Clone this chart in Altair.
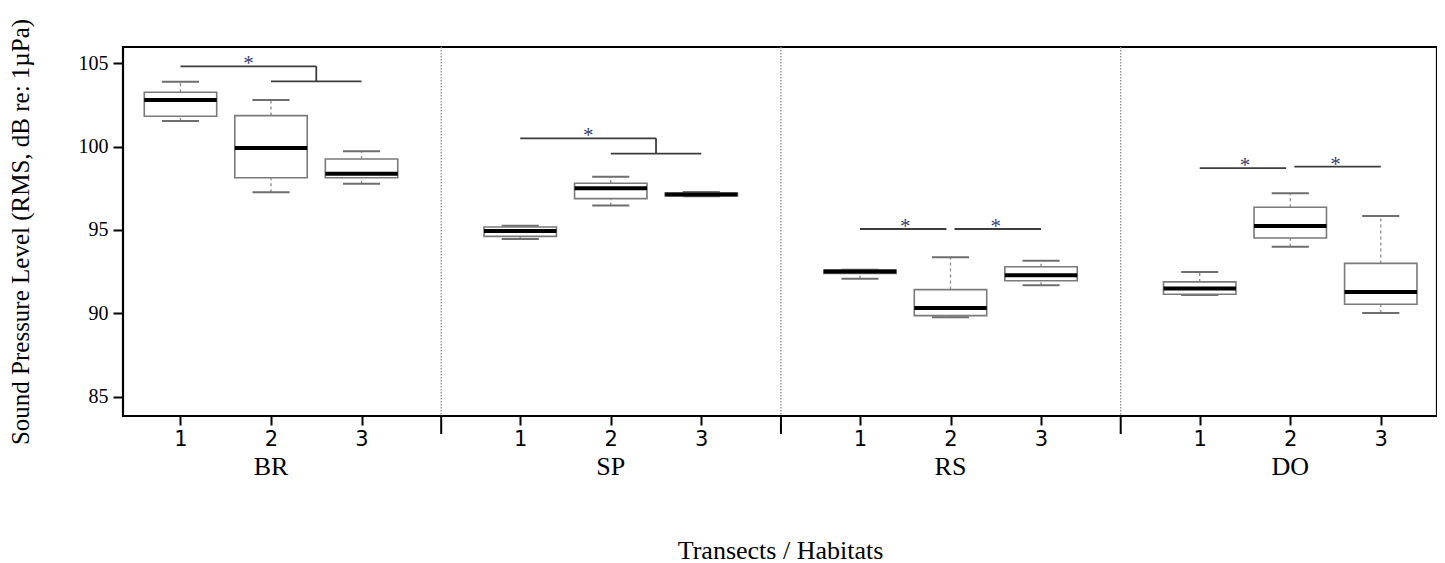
import altair as alt
import pandas as pd

# ---------------- data ----------------
groups = ["BR", "SP", "RS", "DO"]
transects = ["1", "2", "3"]

whisker_low  = [101.53, 97.26, 97.77, 94.46, 96.46, 97.02, 92.08, 89.77, 91.69, 91.11, 94.00, 90.03]
q1           = [101.81, 98.13, 98.13, 94.62, 96.88, 97.05, 92.40, 89.87, 91.96, 91.15, 94.52, 90.55]
median       = [102.78, 99.91, 98.37, 94.94, 97.50, 97.12, 92.52, 90.33, 92.29, 91.49, 95.24, 91.29]
q3           = [103.25, 101.85, 99.25, 95.18, 97.80, 97.22, 92.60, 91.43, 92.80, 91.89, 96.36, 93.00]
whisker_high = [103.88, 102.78, 99.71, 95.26, 98.19, 97.28, 92.62, 93.37, 93.16, 92.49, 97.20, 95.84]

# significance annotations (one per habitat)
sig_kind = ["bracket", "bracket", "pair", "pair"]
sig_level_a = [104.80, 100.49, 95.06, 98.71]   # upper line (bracket) / 1-2 line (pair)
sig_level_b = [103.90, 99.57, 95.06, 98.79]    # lower line (bracket) / 2-3 line (pair)
sig_symbol = "*"

y_ticks = [85, 90, 95, 100, 105]
y_title = "Sound Pressure Level (RMS, dB re: 1µPa)"
x_title = "Transects / Habitats"

# ---------------- layout helpers ----------------
STEP = 3.753          # group spacing in x units
BOX_HALF = 0.40
CAP_HALF = 0.205
GAP = 0.045

def pos(g, i):
    return g * STEP + i

rows = []
for g, grp in enumerate(groups):
    for i, t in enumerate(transects):
        k = g * 3 + i
        p = pos(g, i + 1)
        rows.append(dict(group=grp, transect=t, x=p, xl=p - BOX_HALF, xr=p + BOX_HALF,
                         cl=p - CAP_HALF, cr=p + CAP_HALF,
                         lo=whisker_low[k], q1=q1[k], med=median[k], q3=q3[k], hi=whisker_high[k]))
box = pd.DataFrame(rows)

seps = pd.DataFrame({"x": [pos(g, 1) + 2.88 for g in range(len(groups) - 1)]})
lab = pd.DataFrame({"group": groups, "x": [pos(g, 2) for g in range(len(groups))]})

seg, stars = [], []
for g, kind in enumerate(sig_kind):
    a, b = sig_level_a[g], sig_level_b[g]
    p1, p2, p3 = pos(g, 1), pos(g, 2), pos(g, 3)
    if kind == "bracket":
        m = (p2 + p3) / 2
        seg += [dict(x=p1, x2=m, y=a, y2=a), dict(x=m, x2=m, y=b, y2=a), dict(x=p2, x2=p3, y=b, y2=b)]
        stars.append(dict(x=(p1 + m) / 2, y=a))
    else:
        seg += [dict(x=p1, x2=p2 - GAP, y=a, y2=a), dict(x=p2 + GAP, x2=p3, y=b, y2=b)]
        stars += [dict(x=(p1 + p2) / 2, y=a), dict(x=(p2 + p3) / 2, y=b)]
seg = pd.DataFrame(seg)
stars = pd.DataFrame(stars)
stars["s"] = sig_symbol

W, H = 1314, 369
xs = alt.Scale(domain=[0.365, 14.88], nice=False, zero=False)
ys = alt.Scale(domain=[83.86, 105.96], nice=False, zero=False)

x_axis = alt.Axis(values=[pos(g, i) for g in range(4) for i in (1, 2, 3)],
                  labelExpr="'' + round(datum.value - floor(datum.value / 3.753) * 3.753)",
                  domain=False, grid=False, tickSize=9, tickWidth=2, tickColor="black",
                  labelFont="DejaVu Sans", labelFontSize=21, labelColor="black", labelPadding=3,
                  title=x_title, titleFont="Liberation Serif", titleFontSize=26,
                  titleFontWeight="normal", titleColor="black", titleX=W / 2, titleY=134,
                  titleAlign="center", titleBaseline="middle")
y_axis = alt.Axis(values=y_ticks, domain=False, grid=False, tickSize=10, tickWidth=2,
                  tickColor="black", labelFont="Liberation Serif", labelFontSize=20,
                  labelColor="black", labelPadding=5,
                  title=y_title, titleFont="Liberation Serif", titleFontSize=25,
                  titleFontWeight="normal", titleColor="black", titleX=-103, titleY=H / 2,
                  titleAngle=270, titleAlign="center", titleBaseline="middle")

base = alt.Chart(box)

separators = alt.Chart(seps).mark_rule(color="#8c8c8c", strokeWidth=1.3, strokeDash=[1.5, 1.5]).encode(
    x=alt.X("x:Q", scale=xs, axis=x_axis), y=alt.value(0), y2=alt.value(H))
sep_ticks = alt.Chart(seps).mark_rule(color="black", strokeWidth=2).encode(
    x=alt.X("x:Q", scale=xs), y=alt.value(H), y2=alt.value(H + 18))

wh_hi = base.mark_rule(color="#8a8a8a", strokeWidth=1.3, strokeDash=[3, 3]).encode(
    x=alt.X("x:Q", scale=xs), y=alt.Y("q3:Q", scale=ys, axis=y_axis), y2="hi:Q")
wh_lo = base.mark_rule(color="#8a8a8a", strokeWidth=1.3, strokeDash=[3, 3]).encode(
    x=alt.X("x:Q", scale=xs), y=alt.Y("lo:Q", scale=ys), y2="q1:Q")
cap_hi = base.mark_rule(color="#6e6e6e", strokeWidth=2).encode(
    x=alt.X("cl:Q", scale=xs), x2="cr:Q", y=alt.Y("hi:Q", scale=ys))
cap_lo = base.mark_rule(color="#6e6e6e", strokeWidth=2).encode(
    x=alt.X("cl:Q", scale=xs), x2="cr:Q", y=alt.Y("lo:Q", scale=ys))
boxes = base.mark_rect(fill="white", stroke="#7a7a7a", strokeWidth=1.6).encode(
    x=alt.X("xl:Q", scale=xs), x2="xr:Q", y=alt.Y("q1:Q", scale=ys), y2="q3:Q")
medians = base.mark_rule(color="black", strokeWidth=4).encode(
    x=alt.X("xl:Q", scale=xs), x2="xr:Q", y=alt.Y("med:Q", scale=ys))

sig_lines = alt.Chart(seg).mark_rule(color="#3c3c3c", strokeWidth=1.8).encode(
    x=alt.X("x:Q", scale=xs), x2="x2:Q", y=alt.Y("y:Q", scale=ys), y2="y2:Q")
sig_text = alt.Chart(stars).mark_text(font="Liberation Serif", fontSize=21, color="#3b3f6e",
                                      baseline="alphabetic", dy=4).encode(
    x=alt.X("x:Q", scale=xs), y=alt.Y("y:Q", scale=ys), text="s:N")

group_labels = alt.Chart(lab).mark_text(font="Liberation Serif", fontSize=26, color="black",
                                        baseline="middle").encode(
    x=alt.X("x:Q", scale=xs), y=alt.value(H + 51), text="group:N")

chart = alt.layer(separators, sep_ticks, wh_hi, wh_lo, cap_hi, cap_lo, boxes, medians,
                  sig_lines, sig_text, group_labels).properties(
    width=W, height=H,
    autosize=alt.AutoSizeParams(type="none"),
    padding={"left": 115, "top": 39, "right": 0, "bottom": 160},
    background="white",
).configure_view(stroke="black", strokeWidth=2.2)

chart.save("out.html", embed_options={"renderer": "svg", "actions": False})
